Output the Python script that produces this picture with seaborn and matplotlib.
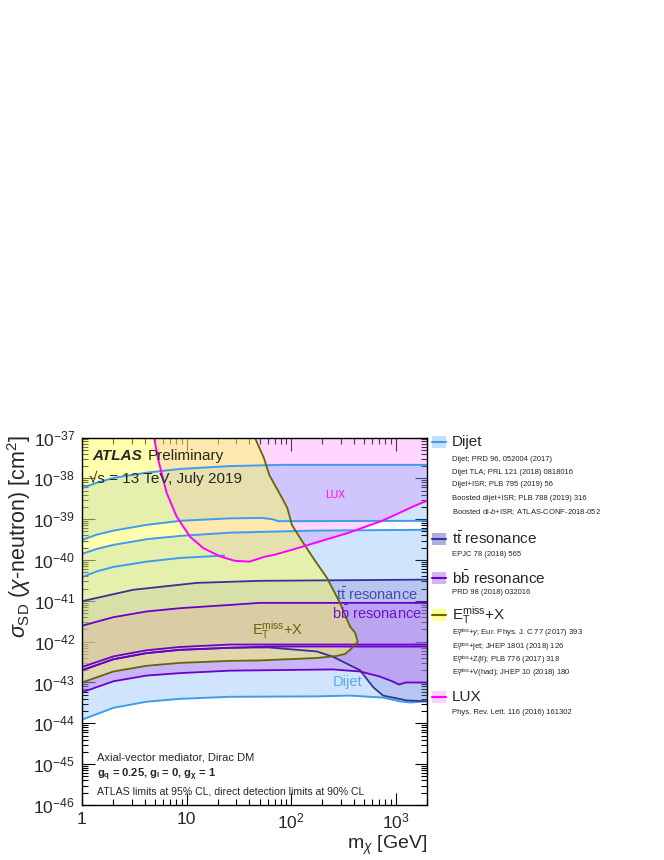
import numpy as np
import pandas as pd
import matplotlib
matplotlib.use("Agg")
import matplotlib.pyplot as plt
import seaborn as sns
from matplotlib.patches import Rectangle
from matplotlib.lines import Line2D
from matplotlib.ticker import LogLocator, FixedLocator, FixedFormatter, NullFormatter

sns.set_theme(style="ticks")
plt.rcParams['font.family'] = ['Liberation Sans', 'DejaVu Sans']
plt.rcParams['mathtext.fontset'] = 'custom'
plt.rcParams['mathtext.rm'] = 'Liberation Sans'
plt.rcParams['mathtext.it'] = 'Liberation Sans:italic'
plt.rcParams['mathtext.bf'] = 'Liberation Sans:bold'
plt.rcParams['mathtext.sf'] = 'Liberation Sans'

# ---------------- data (mass in GeV, log10 of sigma_SD in cm^2) ----------------
XMIN, XMAX = 1.0, 2000.0
YMIN, YMAX = 1e-46, 1e-37

dijet1_m = [1, 1.38, 2.0, 4.16, 8.67, 26.1, 82, 2000]
dijet1_l = [-38.24, -38.11, -37.99, -37.86, -37.77, -37.70, -37.67, -37.67]
dijet2_m = [1, 1.38, 2.0, 4.16, 8.67, 26.1, 52, 66, 76, 2000]
dijet2_l = [-39.51, -39.38, -39.28, -39.14, -39.04, -38.98, -38.97, -39.00, -39.05, -39.04]
dijet3_m = [1, 1.38, 2.0, 4.16, 8.67, 26.1, 170, 2000]
dijet3_l = [-39.85, -39.73, -39.63, -39.49, -39.41, -39.33, -39.28, -39.26]
dijet4_m = [1, 1.38, 2.0, 4.16, 8.67, 22.9]
dijet4_l = [-40.42, -40.28, -40.17, -40.04, -39.95, -39.89]
dijet5_m = [1, 2.0, 4.16, 8.67, 26.1, 177, 367, 759, 1096, 1380, 2000]
dijet5_l = [-43.91, -43.62, -43.47, -43.40, -43.35, -43.34, -43.32, -43.37, -43.46, -43.49, -43.46]

tt_up_m = [1, 1.49, 3.08, 12.6, 50, 2000]
tt_up_l = [-41.01, -40.91, -40.73, -40.56, -40.51, -40.48]
tt_lo_m = [1, 2.0, 4.16, 8.67, 26.1, 60, 177, 252, 457, 609, 759, 1288, 2000]
tt_lo_l = [-42.70, -42.43, -42.28, -42.20, -42.15, -42.14, -42.24, -42.37, -42.70, -43.11,
           -43.32, -43.44, -43.46]

bb_up_m = [1, 2.0, 4.16, 8.67, 26.1, 50, 2000]
bb_up_l = [-41.61, -41.40, -41.26, -41.18, -41.10, -41.05, -41.05]
bb_mid_m = [1, 2.0, 4.16, 8.67, 26.1, 2000]
bb_mid_l = [-42.62, -42.36, -42.21, -42.13, -42.07, -42.07]
bb_mid2_m = [1, 2.0, 4.16, 8.67, 26.1, 60, 2000]
bb_mid2_l = [-42.70, -42.43, -42.28, -42.20, -42.15, -42.12, -42.12]
bb_lo_m = [1, 2.0, 4.16, 8.67, 26.1, 252, 457, 700, 929, 1079, 1247, 2000]
bb_lo_l = [-43.24, -42.97, -42.83, -42.77, -42.71, -42.68, -42.73, -42.85, -42.97, -43.05,
           -43.00, -43.00]

etmiss_m = [1, 2.0, 4.16, 8.67, 26.1, 50, 177, 275, 329, 367, 401, 435, 410, 367, 343, 294,
            221, 170, 127, 102, 92, 82, 62, 55, 45]
etmiss_l = [-43.00, -42.73, -42.59, -42.52, -42.47, -42.46, -42.40, -42.35, -42.30, -42.20,
            -42.10, -42.00, -41.78, -41.63, -41.46, -41.05, -40.44, -40.02, -39.53, -39.14,
            -38.72, -38.48, -37.92, -37.50, -37.00]

lux_m = [4.89, 5.37, 6.46, 8.06, 10.8, 14.5, 20.9, 29, 40, 56, 70, 119, 170, 359, 743, 1538, 2000]
lux_l = [-37.0, -37.55, -38.36, -38.94, -39.43, -39.71, -39.91, -40.02, -40.04, -39.92,
         -39.87, -39.70, -39.58, -39.33, -39.04, -38.67, -38.55]

xtick_vals = [1, 10, 100, 1000]
xtick_labels = ['1', '10', r'$10^{2}$', r'$10^{3}$']

# colours
C_DIJET, F_DIJET = '#3d9cf0', '#3c96fa'
C_TT, F_TT = '#333399', '#7878d0'
C_BB, F_BB = '#6a00cc', '#c080f0'
C_ET, F_ET = '#666600', '#ffff50'
C_LUX, F_LUX = '#ff00ff', '#ff88ff'


def arr(m, l):
    return np.asarray(m, float), 10.0 ** np.asarray(l, float)


fig = plt.figure(figsize=(6.64, 8.60), dpi=100)
ax = fig.add_axes([82 / 664, 1 - 805 / 860, 345 / 664, 367.5 / 860])
ax.set_xscale('log')
ax.set_yscale('log')
ax.set_xlim(XMIN, XMAX)
ax.set_ylim(YMIN, YMAX)


def band(mu, lu, ml, ll, color, alpha, z):
    xu, yu = arr(mu, lu)
    xl, yl = arr(ml, ll)
    ax.fill(np.concatenate([xu, xl[::-1]]), np.concatenate([yu, yl[::-1]]),
            color=color, alpha=alpha, lw=0, zorder=z)


def line(m, l, color, lw=1.3, z=6):
    x, y = arr(m, l)
    df = pd.DataFrame({'m': x, 's': y})
    sns.lineplot(data=df, x='m', y='s', sort=False, estimator=None, color=color,
                 linewidth=lw, ax=ax, legend=False, zorder=z)


# fills
lx, ly = arr(lux_m, lux_l)
ax.fill_between(lx, ly, YMAX, color=F_LUX, alpha=0.34, lw=0, zorder=1)
band(dijet1_m, dijet1_l, dijet2_m, dijet2_l, F_DIJET, 0.24, 2)
band(dijet3_m, dijet3_l, dijet5_m, dijet5_l, F_DIJET, 0.24, 2)
band(tt_up_m, tt_up_l, tt_lo_m, tt_lo_l, F_TT, 0.28, 3)
band(bb_up_m, bb_up_l, bb_lo_m, bb_lo_l, F_BB, 0.48, 4)
ex, ey = arr(etmiss_m, etmiss_l)
ax.fill(np.concatenate([ex, [XMIN]]), np.concatenate([ey, [YMAX]]),
        color=F_ET, alpha=0.46, lw=0, zorder=5)

# lines
for m, l in [(dijet1_m, dijet1_l), (dijet2_m, dijet2_l), (dijet3_m, dijet3_l),
             (dijet4_m, dijet4_l), (dijet5_m, dijet5_l)]:
    line(m, l, C_DIJET, 1.4)
line(tt_up_m, tt_up_l, C_TT)
line(tt_lo_m, tt_lo_l, C_TT)
line(bb_up_m, bb_up_l, C_BB)
line(bb_mid_m, bb_mid_l, C_BB)
line(bb_mid2_m, bb_mid2_l, C_BB)
line(bb_lo_m, bb_lo_l, C_BB)
line(etmiss_m, etmiss_l, C_ET, 1.3, 7)
line(lux_m, lux_l, C_LUX, 1.4, 8)

ax.set_xlabel('')
ax.set_ylabel('')

# ticks
ax.xaxis.set_major_locator(FixedLocator(xtick_vals))
ax.xaxis.set_major_formatter(FixedFormatter(xtick_labels))
ax.xaxis.set_minor_locator(LogLocator(base=10, subs=np.arange(2, 10), numticks=50))
ax.xaxis.set_minor_formatter(NullFormatter())
ax.yaxis.set_major_locator(LogLocator(base=10, numticks=20))
ax.yaxis.set_minor_locator(LogLocator(base=10, subs=np.arange(2, 10), numticks=50))
ax.yaxis.set_minor_formatter(NullFormatter())
ax.tick_params(which='both', direction='in', top=True, right=True, color='black', width=0.8)
ax.tick_params(which='major', length=9, labelsize=12.5, pad=5)
ax.tick_params(which='minor', length=4.5)
for s in ax.spines.values():
    s.set_color('black')
    s.set_linewidth(1.0)
    s.set_zorder(20)

# axis titles
fig.text(19 / 664, 1 - 435 / 860, r'$\sigma_{\mathrm{SD}}$ ($\chi$-neutron) [cm$^{2}$]',
         rotation=90, ha='center', va='top', fontsize=15.5)
fig.text(427 / 664, 1 - 845 / 860, r'm$_{\chi}$ [GeV]', ha='right', va='center', fontsize=14)

# in-plot text
ax.text(0.03, 0.95, 'ATLAS', transform=ax.transAxes, fontsize=11, fontweight='bold',
        fontstyle='italic', va='center', zorder=12)
ax.text(0.19, 0.95, 'Preliminary', transform=ax.transAxes, fontsize=11, va='center', zorder=12)
ax.text(0.02, 0.888, '\u221as = 13 TeV, July 2019', transform=ax.transAxes, fontsize=11,
        va='center', zorder=12)
ax.text(335 / 664, 1 - 495 / 860, 'LUX', transform=fig.transFigure, fontsize=7.5, color=C_LUX,
        ha='center', va='center', zorder=12)
ax.text(418 / 664, 1 - 595 / 860, r'$\mathrm{t}\bar{\mathrm{t}}$ resonance', transform=fig.transFigure,
        fontsize=10.5, color='#4a4aa8', ha='right', va='center', zorder=12)
ax.text(422 / 664, 1 - 613 / 860, r'$\mathrm{b}\bar{\mathrm{b}}$ resonance', transform=fig.transFigure,
        fontsize=10.5, color='#7010cc', ha='right', va='center', zorder=12)
ax.text(278 / 664, 1 - 630 / 860, r'E$_{\mathrm{T}}^{\mathrm{miss}}$+X', transform=fig.transFigure,
        fontsize=10.5, color=C_ET, ha='center', va='center', zorder=12)
ax.text(348 / 664, 1 - 682 / 860, 'Dijet', transform=fig.transFigure,
        fontsize=10.5, color='#55aaf0', ha='center', va='center', zorder=12)
ax.text(97 / 664, 1 - 758 / 860, 'Axial-vector mediator, Dirac DM', transform=fig.transFigure,
        fontsize=8, va='center', zorder=12)
ax.text(97 / 664, 1 - 775 / 860, r'$\mathbf{g_{q}}$ = 0.25, $\mathbf{g_{l}}$ = 0, $\mathbf{g_{\chi}}$ = 1',
        transform=fig.transFigure, fontsize=8, fontweight='bold', va='center', zorder=12)
ax.text(97 / 664, 1 - 792 / 860, 'ATLAS limits at 95% CL, direct detection limits at 90% CL',
        transform=fig.transFigure, fontsize=7.6, va='center', zorder=12)

# legend (drawn manually)
def legend_item(py, title, fill, lcolor, falpha=0.45):
    fy = 1 - py / 860
    fig.add_artist(Rectangle((432 / 664, fy - 6 / 860), 14 / 664, 12 / 860,
                             transform=fig.transFigure, facecolor=fill, alpha=falpha, lw=0))
    fig.add_artist(Line2D([432 / 664, 446 / 664], [fy, fy], transform=fig.transFigure,
                          color=lcolor, lw=1.5))
    fig.text(452 / 664, fy, title, fontsize=11, va='center')


def legend_ref(py, txt):
    fig.text(452 / 664, 1 - py / 860, txt, fontsize=5.5, va='center', color='#222222')


legend_item(442, 'Dijet', F_DIJET, C_DIJET, 0.3)
legend_ref(459, 'Dijet; PRD 96, 052004 (2017)')
legend_ref(472, 'Dijet TLA; PRL 121 (2018) 0818016')
legend_ref(485, 'Dijet+ISR; PLB 795 (2019) 56')
legend_ref(498, 'Boosted dijet+ISR; PLB 788 (2019) 316')
legend_ref(512, r'Boosted di-$b$+ISR; ATLAS-CONF-2018-052')
legend_item(539, r'$\mathrm{t}\bar{\mathrm{t}}$ resonance', F_TT, C_TT, 0.6)
legend_ref(555, 'EPJC 78 (2018) 565')
legend_item(578, r'$\mathrm{b}\bar{\mathrm{b}}$ resonance', F_BB, C_BB, 0.6)
legend_ref(593, 'PRD 98 (2018) 032016')
legend_item(615, r'E$_{\mathrm{T}}^{\mathrm{miss}}$+X', F_ET, C_ET, 0.6)
legend_ref(633, r'E$_{\mathrm{T}}^{\mathrm{miss}}$+$\gamma$; Eur. Phys. J. C 77 (2017) 393')
legend_ref(647, r'E$_{\mathrm{T}}^{\mathrm{miss}}$+jet; JHEP 1801 (2018) 126')
legend_ref(660, r'E$_{\mathrm{T}}^{\mathrm{miss}}$+Z(ll); PLB 776 (2017) 318')
legend_ref(673, r'E$_{\mathrm{T}}^{\mathrm{miss}}$+V(had); JHEP 10 (2018) 180')
legend_item(697, 'LUX', F_LUX, C_LUX, 0.4)
legend_ref(713, 'Phys. Rev. Lett. 116 (2016) 161302')

fig.savefig('out.png', dpi=100)
